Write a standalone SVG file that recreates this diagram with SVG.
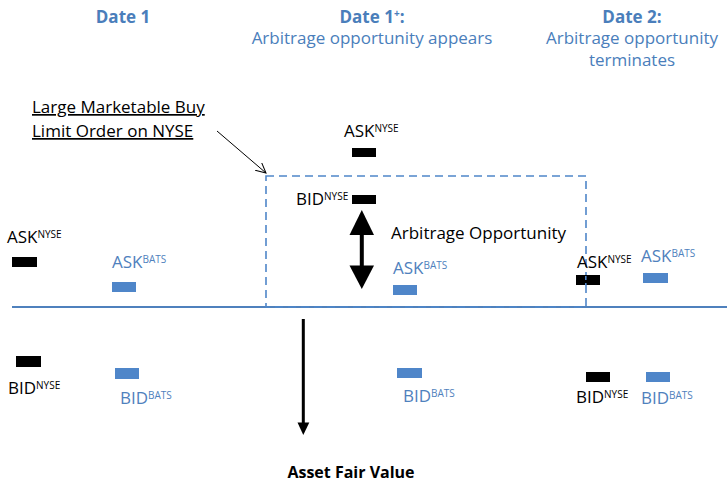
<svg xmlns="http://www.w3.org/2000/svg" width="727" height="482" viewBox="0 0 727 482">
<defs>
<style>
text{font-family:"Open Sans","Liberation Sans",sans-serif;font-size:17px}
.k{fill:#000}
.b{fill:#4F81BD}
.t{fill:#4A7EBB;text-anchor:middle}
.bold{font-weight:bold}
.sup{font-size:10px}
.kb{fill:#000}
.bb{fill:#4F86C9}
</style>
<marker id="open" markerWidth="12" markerHeight="12" refX="10" refY="5" orient="auto" markerUnits="userSpaceOnUse">
<path d="M0,0 L10,5 L0,10" fill="none" stroke="#000" stroke-width="1"/>
</marker>
</defs>
<rect width="727" height="482" fill="#fff"/>

<g id="titles">
<text class="t bold" x="123" y="23">Date 1</text>
<text class="t bold" x="372" y="23">Date 1<tspan class="sup" dy="-6">+</tspan><tspan dy="6">:</tspan></text>
<text class="t" x="372" y="44">Arbitrage opportunity appears</text>
<text class="t bold" x="632" y="23">Date 2:</text>
<text class="t" x="632" y="44">Arbitrage opportunity</text>
<text class="t" x="632" y="66">terminates</text>
</g>

<g id="connectors">
<line x1="12" y1="307" x2="727" y2="307" stroke="#4F81BD" stroke-width="2"/>
<rect x="266" y="176" width="320" height="131" fill="none" stroke="#4F86C9" stroke-width="1.6" stroke-dasharray="8 5"/>
<line x1="217" y1="131" x2="266" y2="173" stroke="#000" stroke-width="1" marker-end="url(#open)"/>
<g id="arb-arrow">
<rect x="359.8" y="233" width="4" height="34" fill="#000"/>
<polygon points="361.8,210 374,235 349.5,235" fill="#000"/>
<polygon points="361.8,289 374,265.5 349.5,265.5" fill="#000"/>
</g>
<g id="fair-arrow">
<rect x="301.8" y="319" width="3" height="105" fill="#000"/>
<polygon points="303.3,435 309.3,422.5 297.5,422.5" fill="#000"/>
</g>
</g>

<g id="order-label">
<text class="k" x="32" y="113" text-decoration="underline">Large Marketable Buy </text>
<text class="k" x="32" y="137" text-decoration="underline">Limit Order on NYSE</text>
</g>

<g id="d1-ask-nyse">
<text class="k" x="7" y="243">ASK<tspan class="sup" dy="-5">NYSE</tspan></text>
<rect class="kb" x="12" y="257" width="25" height="10"/>
</g>
<g id="d1-ask-bats">
<text class="b" x="112" y="268">ASK<tspan class="sup" dy="-5">BATS</tspan></text>
<rect class="bb" x="112" y="282" width="24" height="10"/>
</g>
<g id="d1-bid-nyse">
<rect class="kb" x="16" y="356" width="25" height="11"/>
<text class="k" x="8" y="394">BID<tspan class="sup" dy="-5">NYSE</tspan></text>
</g>
<g id="d1-bid-bats">
<rect class="bb" x="115" y="368" width="24" height="11"/>
<text class="b" x="120" y="404">BID<tspan class="sup" dy="-5">BATS</tspan></text>
</g>

<g id="d1p-ask-nyse">
<text class="k" x="344" y="137">ASK<tspan class="sup" dy="-5">NYSE</tspan></text>
<rect class="kb" x="352" y="148" width="24" height="9"/>
</g>
<g id="d1p-bid-nyse">
<text class="k" x="296" y="205">BID<tspan class="sup" dy="-5">NYSE</tspan></text>
<rect class="kb" x="352" y="195" width="24" height="9"/>
</g>
<g id="arb-label">
<text class="k" x="391" y="239">Arbitrage Opportunity</text>
</g>
<g id="d1p-ask-bats">
<text class="b" x="393" y="274">ASK<tspan class="sup" dy="-5">BATS</tspan></text>
<rect class="bb" x="393" y="285" width="24" height="10"/>
</g>
<g id="d1p-bid-bats">
<rect class="bb" x="397" y="368" width="25" height="10"/>
<text class="b" x="403" y="402">BID<tspan class="sup" dy="-5">BATS</tspan></text>
</g>

<g id="d2-ask-nyse">
<text class="k" x="577" y="268">ASK<tspan class="sup" dy="-5">NYSE</tspan></text>
<rect class="kb" x="576" y="275" width="24" height="10"/>
<line x1="585.8" y1="276" x2="585.8" y2="285" stroke="#4F86C9" stroke-width="1.6" stroke-dasharray="4 3"/>
</g>
<g id="d2-ask-bats">
<text class="b" x="641" y="262">ASK<tspan class="sup" dy="-5">BATS</tspan></text>
<rect class="bb" x="643" y="273" width="25" height="10"/>
</g>
<g id="d2-bid-nyse">
<rect class="kb" x="586" y="372" width="24" height="10"/>
<text class="k" x="576" y="403">BID<tspan class="sup" dy="-5">NYSE</tspan></text>
</g>
<g id="d2-bid-bats">
<rect class="bb" x="646" y="372" width="24" height="10"/>
<text class="b" x="641" y="404">BID<tspan class="sup" dy="-5">BATS</tspan></text>
</g>

<g id="fair-value">
<text class="k bold" x="351" y="478" text-anchor="middle" style="font-size:16px">Asset Fair Value</text>
</g>
</svg>
